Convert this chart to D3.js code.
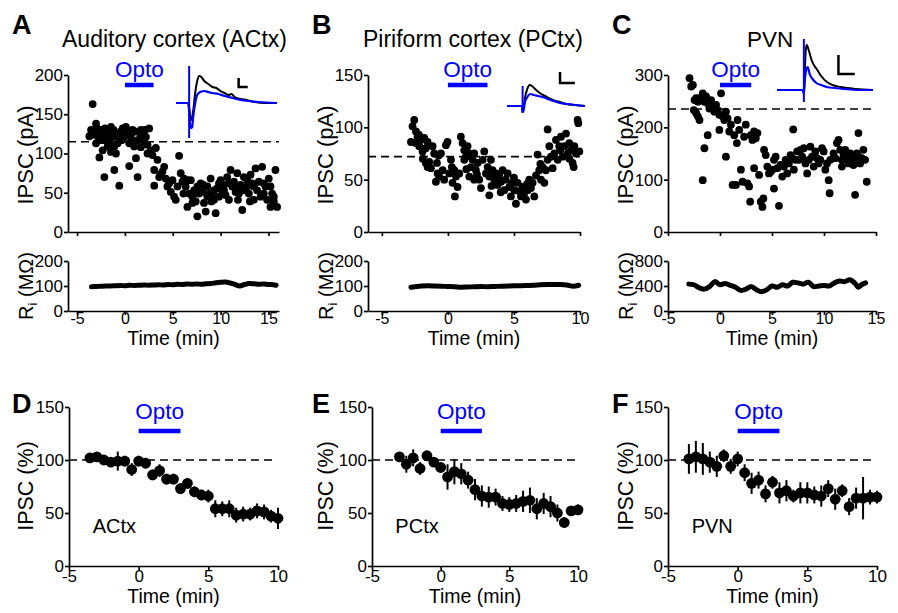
<!DOCTYPE html>
<html><head><meta charset="utf-8">
<script src="https://cdn.jsdelivr.net/npm/d3@7"></script>
<style>
body{margin:0;background:#fff}
text{font-family:"Liberation Sans",Arial,Helvetica,sans-serif;fill:#000}
</style>
</head><body>
<svg id="c" width="898" height="613" style="background:#fff"></svg>
<script>
// ---------------- DATA ----------------
// Panel A: Auditory cortex scatter (time min, IPSC pA)
const aTime = [-3.37,-3.72,-3.02,-3.19,-2.85,-2.50,-2.67,-2.67,-2.33,-2.15,-3.02,
 -1.98,-1.63,-1.46,-1.28,-1.11,-0.94,-0.76,-1.11,-0.59,-0.59,-0.42,-1.81,-1.46,
 -0.24,0.10,0.28,0.45,0.45,0.63,0.80,0.97,1.15,1.32,1.32,1.49,1.67,1.67,
 2.01,2.19,2.36,2.53,2.71,2.88,3.06,3.06,3.23,3.40,3.58,3.68,
 3.92,4.10,4.27,4.44,4.62,4.79,4.97,5.14,5.31,5.49,5.66,5.83,
 6.01,6.18,6.35,6.53,6.70,6.88,7.05,7.22,7.40,7.57,7.74,7.92,
 8.09,8.26,8.44,8.61,8.78,8.96,9.13,9.31,9.48,9.65,9.83,10.0,
 10.17,10.35,10.52,10.69,10.87,11.04,11.22,11.39,11.56,11.74,11.91,12.08,
 12.26,12.43,12.60,12.78,12.95,13.13,13.30,13.47,13.65,13.82,13.99,14.17,
 14.34,14.51,14.69,14.86,15.03,15.21,15.38,15.56,15.73,15.90,
 -3.54,-3.26,-2.92,-2.50,-2.22,-2.08,-1.74,-1.18,-0.83,-0.35,-0.07,0.69,1.04,1.60,1.84,2.08,2.36,
 6.53,7.57,8.61,9.31,10.35,11.39,12.08,12.78,13.47,14.51,15.21,15.56,6.11,7.05,8.19,9.03,9.83,10.87,11.81,13.06];
const aIPSC = [163,122,138,128,122,130,117,95,104,70,113,
 124,115,134,121,109,100,113,79,59,119,128,109,102,
 132,134,128,113,84,124,130,109,94,117,70,127,108,130,
 115,121,100,132,104,98,79,59,107,92,70,73,
 77,83,68,58,62,51,66,45,41,58,97,75,
 64,68,58,32,49,66,45,53,39,20,49,62,
 51,37,26,58,49,68,45,41,24,56,62,66,
 51,60,47,70,41,79,58,64,51,75,49,60,
 28,70,53,58,49,73,62,41,81,53,64,45,
 83,49,58,41,68,32,49,39,79,32,
 130,124,132,124,117,132,128,130,124,117,121,117,128,119,124,130,111,
 66,58,45,53,53,58,53,66,58,62,58,45,49,37,60,39,45,62,41,39];

// Panel B: Piriform cortex scatter
const bTime = [-2.55,-2.68,-2.80,-2.42,-2.30,-2.17,-2.42,-2.05,-1.92,-1.79,-1.67,-1.54,-1.67,-1.54,-1.41,-1.29,-1.16,-1.04,-0.91,-0.78,-0.83,-0.66,-0.53,-0.40,-0.28,-0.15,-0.03,
 0.10,0.23,0.35,0.48,0.53,0.61,0.73,0.86,0.98,1.11,1.24,1.24,1.36,1.49,1.62,1.62,1.74,1.87,1.99,1.99,2.12,2.25,2.37,2.50,2.63,2.75,2.88,3.01,3.13,3.13,3.26,3.38,3.51,3.64,3.76,3.89,
 4.02,4.14,4.27,4.39,4.52,4.65,4.77,4.90,5.03,5.15,5.28,5.40,5.53,5.66,5.78,5.91,6.04,6.16,6.29,6.41,6.54,6.67,6.79,6.92,7.05,7.17,7.30,7.42,7.55,7.55,7.68,7.80,7.93,
 8.06,8.18,8.31,8.43,8.56,8.69,8.81,8.94,9.07,9.19,9.32,9.44,9.52,9.57,9.70,9.82,9.87,9.95,
 -2.2,-1.9,-0.7,0.3,1.4,2.2,3.3,4.0,5.0,6.0,7.0,8.5,9.2];
const bIPSC = [107,101,86,96,91,82,85,88,77,90,80,86,66,62,67,61,82,75,48,56,66,53,75,59,50,83,86,
 56,69,47,59,34,53,43,56,91,85,78,69,72,82,75,53,62,69,75,50,59,66,50,42,69,77,56,62,53,35,69,59,50,56,45,54,
 48,59,40,50,56,43,34,47,40,27,47,39,34,43,37,31,40,50,42,47,34,54,74,59,50,62,47,59,98,69,82,72,61,
 75,88,69,82,91,72,82,94,75,85,78,66,62,82,75,107,104,77,
 93,70,73,62,60,55,44,38,52,46,65,78,70];

// Panel C: PVN scatter
const cTime = [-2.93,-2.77,-2.61,-2.45,-2.29,-2.13,-1.97,-2.52,-2.29,-2.13,-1.97,-1.82,-1.66,-1.50,-1.34,-1.18,-1.02,-0.86,-0.70,-0.54,-0.38,-0.22,-0.06,0.10,0.25,0.41,0.57,0.73,
 -1.50,-1.18,-1.66,-0.06,0.57,0.89,1.05,1.21,1.37,1.53,1.62,1.69,1.85,2.01,2.17,2.32,2.48,2.64,2.80,2.96,3.12,3.28,3.28,3.44,3.60,3.76,
 2.90,3.92,4.08,4.17,4.24,4.39,4.55,4.71,4.87,5.03,5.19,5.19,5.35,5.51,5.67,5.83,5.99,6.15,6.31,6.46,6.62,6.78,6.94,7.04,7.10,7.26,7.42,7.58,7.74,7.90,
 8.06,8.22,8.38,8.54,8.69,8.85,9.01,9.17,9.33,9.49,9.65,9.81,9.97,10.13,10.29,10.45,10.54,10.61,10.92,11.08,11.24,11.40,11.56,11.72,11.88,12.04,12.20,12.36,12.52,12.68,12.83,12.99,
 13.15,13.31,13.47,13.63,13.79,13.95,14.11,13.31,12.83,12.36,11.72];
const cIPSC = [294,278,281,252,256,249,256,233,227,221,214,252,265,249,259,246,236,252,240,230,243,233,224,265,221,214,230,217,
 160,185,99,195,144,192,205,90,185,90,170,214,195,119,96,182,205,93,87,185,176,192,122,179,189,109,
 58,58,48,64,157,147,125,112,115,119,83,138,144,122,50,128,106,125,138,112,131,147,141,196,119,138,154,138,157,144,
 160,131,112,138,163,144,125,154,141,131,138,160,154,119,131,99,74,138,150,141,170,176,157,138,147,157,138,131,150,141,138,71,
 150,189,131,141,157,138,96,144,128,144,125];

// Ri traces (time min, resistance MOhm)
const riATime = [-3.5,-3,-2.5,-2,-1.5,-1,-0.5,0,0.5,1,1.5,2,2.5,3,3.5,4,4.5,5,5.5,6,6.5,7,7.5,8,8.5,9,9.5,10,10.5,11,11.5,12,12.5,13,13.5,14,14.5,15,15.5,15.8];
const riA = [97,98,99,100,100,101,102,101,103,102,103,104,103,104,105,104,106,105,107,106,108,107,108,107,109,110,113,115,116,112,106,100,106,110,109,107,108,106,105,103];
const riBTime = [-2.8,-2.5,-2,-1.5,-1,-0.5,0,0.5,1,1.5,2,2.5,3,3.5,4,4.5,5,5.5,6,6.5,7,7.5,8,8.5,9,9.5,9.9];
const riB = [95,97,100,101,100,99,98,97,95,96,97,98,97,98,99,100,101,101,102,103,105,106,106,106,104,99,103];
const riCTime = [-3,-2.5,-2,-1.5,-1,-0.5,0,0.5,1,1.5,2,2.5,3,3.5,4,4.5,5,5.5,6,6.5,7,7.5,8,8.5,9,9.5,10,10.5,11,11.5,12,12.5,13,13.3,13.6,14];
const riC = [430,420,370,350,390,470,420,440,410,380,330,350,390,340,310,340,400,380,420,400,460,450,430,460,390,400,410,400,450,480,470,500,440,380,420,450];

// Normalised IPSC (%), mean and SEM
const dTime = [-3.5,-3,-2.5,-2,-1.5,-1,-0.5,0,0.5,1,1.5,2,2.5,3,3.5,4,4.5,5,5.5,6,6.5,7,7.5,8,8.5,9,9.5,10];
const dMean = [102,103,100,98,99,99,91,99,97,86,90,82,82,73,78,70,67,66,54,54,54,48,49,49,52,51,47,45];
const dSem  = [3,4,4,4,9,5,6,5,5,5,6,5,5,5,5,5,5,6,8,7,8,7,7,6,7,7,6,10];
const eTime = [-3,-2.5,-2,-1.5,-1,-0.5,0,0.5,1,1.5,2,2.5,3,3.5,4,4.5,5,5.5,6,6.5,7,7.5,8,8.5,9,9.5,10];
const eMean = [103,96,102,92,104,98,93,84,89,87,81,72,66,65,65,59,58,59,61,62,54,59,56,50,41,52,53];
const eSem  = [4,8,8,6,4,4,5,12,12,10,8,10,10,10,8,7,7,8,10,12,10,10,10,8,5,4,5];
const fTime = [-3.5,-3,-2.5,-2,-1.5,-1,-0.5,0,0.5,1,1.5,2,2.5,3,3.5,4,4.5,5,5.5,6,6.5,7,7.5,8,8.5,9,9.5,10];
const fMean = [101,103,101,98,94,104,94,101,88,78,81,68,79,69,71,66,69,69,67,66,73,63,71,56,64,64,65,65];
const fSem  = [14,15,15,10,10,6,7,7,8,10,8,8,6,10,10,6,10,10,8,10,8,10,6,8,10,20,7,6];

// Baselines (dashed lines)
const baseA = 115, baseB = 72, baseC = 235, baseNorm = 100;
const optoStart = 0, optoEnd = 3;

// Example IPSC traces [time (a.u.), current (a.u.)]
const trA_black = [[0,0],[8,0],[12,0],[13,-4],[14,-14],[15,-17],[17,-8],[19,10],[21,22],[23,27],[25,26],[28,22],[32,19],[36,16],[40,15],[44,12],[48,10],[52,8],[55,9],[58,6],[64,4],[70,3],[78,1],[88,0],[100,0]];
const trA_blue  = [[0,0],[8,0],[12,0],[13,-8],[14,-22],[15,-25],[16,-24],[17,-14],[19,0],[21,8],[24,11],[28,12],[32,11],[36,10],[42,9],[48,7],[56,5],[64,3],[72,2],[82,1],[100,0]];
const artA = [37,-35];
const trB_black = [[0,0],[17,0],[19,0],[20,-5],[21,-4],[23,8],[26,17],[29,21],[32,20],[36,17],[42,13],[49,10],[56,7],[62,5],[68,4],[76,2],[87,1],[100,0]];
const trB_blue  = [[0,0],[17,0],[19,0],[20,-6],[21,-5],[23,4],[26,9],[30,12],[34,11],[40,10],[46,9],[52,7],[60,5],[68,3],[78,2],[88,1],[100,0]];
const artB = [20,-7];
const trC_black = [[0,0],[20,0],[27,0],[28,-3],[29,20],[30,40],[31,45],[33,40],[36,30],[39,24],[42,20],[46,14],[52,8],[58,5],[66,3],[74,2],[82,1],[100,0]];
const trC_blue  = [[0,0],[20,0],[27,0],[28,-4],[29,10],[31,22],[32,23],[34,16],[37,11],[41,7],[46,5],[52,3],[60,2],[70,1],[85,0],[100,0]];
const artC = [51,-12];

// tick values
const xTicks15 = [-5,0,5,10,15], xTicks10 = [-5,0,5,10];

// ---------------- DRAWING ----------------
const svg = d3.select('#c');
const BLUE = '#0000ff';

function styleAxis(g, fs) {
  g.selectAll('path.domain').attr('stroke', '#000').attr('stroke-width', 1.7);
  g.selectAll('.tick line').attr('stroke', '#000').attr('stroke-width', 1.7);
  g.selectAll('.tick text').attr('font-size', fs).attr('fill', '#000')
    .style('font-family', '"Liberation Sans",Arial,sans-serif');
}
function drawAxes(x, y, xt, yt, showX, pad, xfs) {
  const gx = svg.append('g').attr('transform', `translate(0,${y.range()[0]})`)
    .call(d3.axisBottom(x).tickValues(xt).tickSize(4).tickSizeOuter(0).tickPadding(pad)
      .tickFormat(showX ? (d => String(d)) : (() => '')));
  styleAxis(gx, xfs);
  const gy = svg.append('g').attr('transform', `translate(${x.range()[0]},0)`)
    .call(d3.axisLeft(y).tickValues(yt).tickSize(4).tickSizeOuter(0).tickPadding(1)
      .tickFormat(d => String(d)));
  styleAxis(gy, 17);
}
function yLabel(x, y, txt, fs) {
  svg.append('text').attr('transform', `translate(${x},${y}) rotate(-90)`)
    .attr('text-anchor', 'middle').attr('font-size', fs).text(txt);
}
function riLabel(x, y) {
  const t = svg.append('text').attr('transform', `translate(${x},${y}) rotate(-90)`)
    .attr('text-anchor', 'middle').attr('font-size', 20);
  t.append('tspan').text('R');
  t.append('tspan').attr('font-size', 13).attr('dy', 4).text('i');
  t.append('tspan').attr('dy', -4).text(' (MΩ)');
}
function xLabel(x, y, txt) {
  svg.append('text').attr('x', (x.range()[0] + x.range()[1]) / 2).attr('y', y)
    .attr('text-anchor', 'middle').attr('font-size', 19.5).text(txt);
}
function dashed(x, y, v, x0, x1) {
  svg.append('line').attr('x1', x(x0)).attr('x2', x(x1)).attr('y1', y(v)).attr('y2', y(v))
    .attr('stroke', '#000').attr('stroke-width', 1.6).attr('stroke-dasharray', '8,5');
}
function opto(x, barY, textY) {
  svg.append('line').attr('x1', x(optoStart)).attr('x2', x(optoEnd)).attr('y1', barY).attr('y2', barY)
    .attr('stroke', BLUE).attr('stroke-width', 4.5);
  svg.append('text').attr('x', x((optoStart + optoEnd) / 2)).attr('y', textY).attr('text-anchor', 'middle')
    .attr('font-size', 22.5).style('fill', BLUE).text('Opto');
}
function scatter(x, y, ts, vs) {
  svg.append('g').selectAll('circle').data(ts).join('circle')
    .attr('cx', (d) => x(d)).attr('cy', (d, i) => y(vs[i])).attr('r', 3.9).attr('fill', '#000');
}
function riTrace(x, y, ts, vs) {
  svg.append('path').datum(ts.map((t, i) => [t, vs[i]]))
    .attr('d', d3.line().x(d => x(d[0])).y(d => y(d[1])).curve(d3.curveCatmullRom))
    .attr('fill', 'none').attr('stroke', '#000').attr('stroke-width', 5).attr('stroke-linejoin', 'round').attr('stroke-linecap', 'round');
}
function meanPlot(x, y, ts, ms, es) {
  const g = svg.append('g');
  g.selectAll('line').data(ts).join('line')
    .attr('x1', d => x(d)).attr('x2', d => x(d))
    .attr('y1', (d, i) => y(ms[i] - es[i])).attr('y2', (d, i) => y(ms[i] + es[i]))
    .attr('stroke', '#000').attr('stroke-width', 2);
  g.selectAll('circle').data(ts).join('circle')
    .attr('cx', d => x(d)).attr('cy', (d, i) => y(ms[i])).attr('r', 5.4).attr('fill', '#000');
}
function inset(x0, x1, base, black, blue, art, bar) {
  const ix = d3.scaleLinear().domain([0, 100]).range([x0, x1]);
  const iy = d3.scaleLinear().domain([0, 40]).range([base, base - 40]);
  const ln = d3.line().x(d => ix(d[0])).y(d => iy(d[1])).curve(d3.curveMonotoneX);
  svg.append('path').attr('d', ln(black)).attr('fill', 'none').attr('stroke', '#000').attr('stroke-width', 2);
  svg.append('path').attr('d', ln(blue)).attr('fill', 'none').attr('stroke', BLUE).attr('stroke-width', 2.2);
  const ta = blue[2][0] + 1;
  svg.append('line').attr('x1', ix(ta)).attr('x2', ix(ta)).attr('y1', iy(art[0])).attr('y2', iy(art[1]))
    .attr('stroke', BLUE).attr('stroke-width', 2);
  // scale bar
  svg.append('path').attr('d', `M${ix(bar[0])},${iy(bar[3])}V${iy(bar[2])}H${ix(bar[0] + bar[1])}`)
    .attr('fill', 'none').attr('stroke', '#000').attr('stroke-width', 2.5);
}
function letter(x, y, L) {
  svg.append('text').attr('x', x).attr('y', y).attr('font-size', 27).attr('font-weight', 'bold').text(L);
}

// ----- Panel A -----
const xA = d3.scaleLinear().domain([-5.95, 16.1]).range([68, 279]);
const yA = d3.scaleLinear().domain([0, 200]).range([232, 75]);
const rA = d3.scaleLinear().domain([0, 200]).range([311, 261]);
// ----- Panel B -----
const xB = d3.scaleLinear().domain([-6.05, 10]).range([368, 580]);
const yB = d3.scaleLinear().domain([0, 150]).range([232, 75]);
const rB = d3.scaleLinear().domain([0, 200]).range([311, 261]);
// ----- Panel C -----
const xC = d3.scaleLinear().domain([-5, 15]).range([668, 876]);
const yC = d3.scaleLinear().domain([0, 300]).range([232, 75]);
const rC = d3.scaleLinear().domain([0, 800]).range([311, 261]);
// ----- Panels D-F -----
const yN = d3.scaleLinear().domain([0, 150]).range([566, 407]);
const xD = d3.scaleLinear().domain([-5, 10]).range([69, 278]);
const xE = d3.scaleLinear().domain([-5, 10]).range([372, 578]);
const xF = d3.scaleLinear().domain([-5, 10]).range([668, 877]);

const tops = [
  {x: xA, y: yA, r: rA, xt: xTicks15, yt: [0,50,100,150,200], rt: [0,100,200], ts: aTime, vs: aIPSC, rts: riATime, rvs: riA, base: baseA, off: 0},
  {x: xB, y: yB, r: rB, xt: xTicks10, yt: [0,50,100,150], rt: [0,100,200], ts: bTime, vs: bIPSC, rts: riBTime, rvs: riB, base: baseB, off: 300},
  {x: xC, y: yC, r: rC, xt: xTicks15, yt: [0,100,200,300], rt: [0,400,800], ts: cTime, vs: cIPSC, rts: riCTime, rvs: riC, base: baseC, off: 600}
];
tops.forEach(p => {
  drawAxes(p.x, p.y, p.xt, p.yt, false, 1, 17);
  drawAxes(p.x, p.r, p.xt, p.rt, true, -2, 16);
  dashed(p.x, p.y, p.base, p.x.domain()[0], p.x.domain()[1]);
  scatter(p.x, p.y, p.ts, p.vs);
  riTrace(p.x, p.r, p.rts, p.rvs);
  opto(p.x, 85, 77);
  yLabel(p.off + 33, 155, 'IPSC (pA)', 22);
  riLabel(p.off + 33, 286);
  xLabel(p.x, 345, 'Time (min)');
});

inset(176, 277, 103, trA_black, trA_blue, artA, [62, 9, 16, 25]);
inset(507, 585, 106, trB_black, trB_blue, artB, [68, 19, 23, 34]);
inset(777, 873, 90, trC_black, trC_blue, artC, [64, 17, 16, 35]);

letter(12, 34, 'A'); letter(312, 34, 'B'); letter(612, 34, 'C');
svg.append('text').attr('x', 62).attr('y', 47).attr('font-size', 23).text('Auditory cortex (ACtx)');
svg.append('text').attr('x', 363).attr('y', 47).attr('font-size', 23).text('Piriform cortex (PCtx)');
svg.append('text').attr('x', 747).attr('y', 47).attr('font-size', 22.5).text('PVN');

const bots = [
  {x: xD, ts: dTime, ms: dMean, es: dSem, name: 'ACtx', L: 'D', off: 0},
  {x: xE, ts: eTime, ms: eMean, es: eSem, name: 'PCtx', L: 'E', off: 300},
  {x: xF, ts: fTime, ms: fMean, es: fSem, name: 'PVN', L: 'F', off: 600}
];
bots.forEach(p => {
  drawAxes(p.x, yN, xTicks10, [0, 50, 100, 150], true, 0, 17);
  dashed(p.x, yN, baseNorm, -5, 9.8);
  meanPlot(p.x, yN, p.ts, p.ms, p.es);
  opto(p.x, 431, 419);
  yLabel(p.off + 33, 486, 'IPSC (%)', 21.5);
  xLabel(p.x, 603, 'Time (min)');
  svg.append('text').attr('x', p.x(-3.3)).attr('y', 533).attr('font-size', 20).text(p.name);
  letter(p.off + 12, 413, p.L);
});
</script>
</body></html>
